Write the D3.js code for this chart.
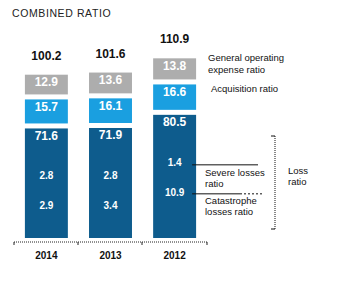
<!DOCTYPE html>
<html>
<head>
<meta charset="utf-8">
<script src="https://cdn.jsdelivr.net/npm/d3@7"></script>
<style>
  html, body { margin: 0; padding: 0; background: #fff; }
  svg { display: block; font-family: "Liberation Sans", Arial, sans-serif; }
</style>
</head>
<body>
<svg id="chart" width="347" height="285"></svg>
<script>
// Combined ratio by year, split into its components
const years = ["2014", "2013", "2012"];
const lossRatio = [71.6, 71.9, 80.5];
const acquisitionRatio = [15.7, 16.1, 16.6];
const expenseRatio = [12.9, 13.6, 13.8];
const combinedRatio = [100.2, 101.6, 110.9];
const severeLosses = [2.8, 2.8, 1.4];
const catastropheLosses = [2.9, 3.4, 10.9];
const legendLabels = {
  expense: ["General operating", "expense ratio"],
  acquisition: ["Acquisition ratio"],
  severe: ["Severe losses", "ratio"],
  catastrophe: ["Catastrophe", "losses ratio"],
  loss: ["Loss", "ratio"]
};

const svg = d3.select("#chart");
const baseY = 238;
const gap = 5;
const colors = { loss: "#0e5c8d", acquisition: "#1a9fe0", expense: "#adadad" };

const x = d3.scaleBand().domain(years).range([14, 207]).paddingInner(0.33).paddingOuter(0.17);
// pixel height per ratio point
const h = d3.scaleLinear().domain([0, 100]).range([0, 153]);

// Title
svg.append("text").attr("x", 12).attr("y", 17)
  .attr("font-size", 10.5).attr("fill", "#222").attr("letter-spacing", 0.6)
  .text("COMBINED RATIO");

years.forEach((yr, i) => {
  const x0 = x(yr), w = x.bandwidth();
  const segs = [
    { key: "loss", v: lossRatio[i] },
    { key: "acquisition", v: acquisitionRatio[i] },
    { key: "expense", v: expenseRatio[i] }
  ];
  let y = baseY;
  segs.forEach(s => {
    const hh = h(s.v);
    const top = y - hh;
    svg.append("rect").attr("x", x0).attr("y", top).attr("width", w).attr("height", hh)
      .attr("fill", colors[s.key]);
    svg.append("text").attr("x", x0 + w / 2).attr("y", top + 11.5)
      .attr("text-anchor", "middle").attr("font-size", 12).attr("font-weight", "bold")
      .attr("fill", "#fff").text(s.v.toFixed(1));
    y = top - gap;
  });
  const topY = y + gap;
  // total label
  svg.append("text").attr("x", x0 + w / 2).attr("y", topY - 15)
    .attr("text-anchor", "middle").attr("font-size", 12).attr("font-weight", "bold")
    .attr("fill", "#111").text(combinedRatio[i].toFixed(1));
  // breakdown of the loss ratio inside the dark segment
  const darkTop = baseY - h(lossRatio[i]);
  svg.append("text").attr("x", x0 + w / 2).attr("y", darkTop + 51)
    .attr("text-anchor", "middle").attr("font-size", 10).attr("font-weight", "bold")
    .attr("fill", "#fff").text(severeLosses[i].toFixed(1));
  svg.append("text").attr("x", x0 + w / 2).attr("y", darkTop + 81)
    .attr("text-anchor", "middle").attr("font-size", 10).attr("font-weight", "bold")
    .attr("fill", "#fff").text(catastropheLosses[i].toFixed(1));
});

// Axis
const axisY = 242;
svg.append("line").attr("x1", 14).attr("x2", 207).attr("y1", axisY).attr("y2", axisY)
  .attr("stroke", "#222").attr("stroke-width", 1).attr("stroke-dasharray", "1,1");
[14, 78, 142, 207].forEach(t => {
  svg.append("line").attr("x1", t).attr("x2", t).attr("y1", axisY).attr("y2", axisY + 3)
    .attr("stroke", "#222").attr("stroke-width", 1);
});
years.forEach(yr => {
  svg.append("text").attr("x", x(yr) + x.bandwidth() / 2).attr("y", 259)
    .attr("text-anchor", "middle").attr("font-size", 10).attr("font-weight", "bold")
    .attr("fill", "#111").text(yr);
});

// Legend annotations on the right
const last = years.length - 1;
const lastX = x(years[last]) + x.bandwidth();
function lines(arr, x0, y0, lh) {
  const t = svg.append("text").attr("x", x0).attr("y", y0).attr("font-size", 9.5).attr("fill", "#111");
  arr.forEach((s, k) => t.append("tspan").attr("x", x0).attr("dy", k === 0 ? 0 : lh).text(s));
}
lines(legendLabels.expense, 208, 61, 12);
lines(legendLabels.acquisition, 211, 92, 12);
lines(legendLabels.severe, 205, 176, 11);
lines(legendLabels.catastrophe, 205, 204, 11);
lines(legendLabels.loss, 288, 174, 11);

const darkTop = baseY - h(lossRatio[last]);
svg.append("line").attr("x1", lastX - 4).attr("x2", 258).attr("y1", darkTop + 50).attr("y2", darkTop + 50)
  .attr("stroke", "#111").attr("stroke-width", 1);
svg.append("line").attr("x1", lastX - 4).attr("x2", 240).attr("y1", darkTop + 79).attr("y2", darkTop + 79)
  .attr("stroke", "#111").attr("stroke-width", 1);
svg.append("line").attr("x1", 240).attr("x2", 262).attr("y1", darkTop + 79).attr("y2", darkTop + 79)
  .attr("stroke", "#111").attr("stroke-width", 1).attr("stroke-dasharray", "2,2");

// bracket grouping the loss components
svg.append("line").attr("x1", 275).attr("x2", 275).attr("y1", 136).attr("y2", 229)
  .attr("stroke", "#111").attr("stroke-width", 1).attr("stroke-dasharray", "1,1");
svg.append("line").attr("x1", 271).attr("x2", 275).attr("y1", 136).attr("y2", 136)
  .attr("stroke", "#111").attr("stroke-width", 1);
svg.append("line").attr("x1", 271).attr("x2", 275).attr("y1", 229).attr("y2", 229)
  .attr("stroke", "#111").attr("stroke-width", 1);
</script>
</body>
</html>
